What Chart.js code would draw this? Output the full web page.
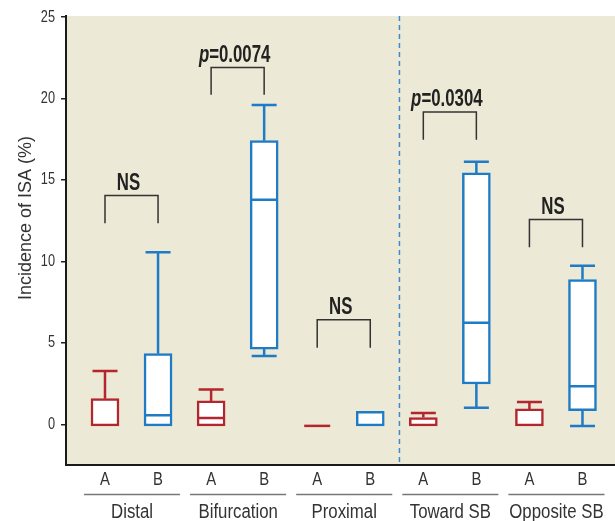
<!DOCTYPE html>
<html>
<head>
<meta charset="utf-8">
<title>Incidence of ISA</title>
<script src="https://cdn.jsdelivr.net/npm/chart.js@4.4.0/dist/chart.umd.min.js"></script>
<style>
    html, body { margin: 0; padding: 0; background: #fff; }
    #wrap { width: 615px; height: 521px; position: relative; }
</style>
</head>
<body>
<div id="wrap"><canvas id="isaChart"></canvas></div>
<script>
// Segments along the stent, each one has arm A (red) and arm B (blue)
const segments = ['Distal', 'Bifurcation', 'Proximal', 'Toward SB', 'Opposite SB'];
const arms = ['A', 'B'];
const yTicks = [0, 5, 10, 15, 20, 25];

// Box plot values (%), one entry per segment
const aLow  = [-0.1, -0.1, -0.1, -0.1, -0.1];
const aQ1   = [-0.1, -0.1, -0.1, -0.1, -0.1];
const aMed  = [-0.1, 0.39, -0.1, -0.1, -0.1];
const aQ3   = [1.57, 1.43, -0.1, 0.41, 0.94];
const aHigh = [3.27, 2.14, -0.1, 0.69, 1.37];

const bLow  = [-0.1, 4.19, -0.1, 1.02, -0.1];
const bQ1   = [-0.1, 4.61, -0.1, 2.47, 0.84];
const bMed  = [0.55, 13.77, -0.1, 6.23, 2.33];
const bQ3   = [4.33, 17.4, 0.8, 15.42, 8.88];
const bHigh = [10.56, 19.59, 0.8, 16.1, 9.72];

// Significance brackets between A and B of each segment
const sigLabels  = ['NS', 'p=0.0074', 'NS', 'p=0.0304', 'NS'];
const bracketTop = [14.03, 21.89, 6.42, 19.16, 12.56];
const bracketLeg = [12.33, 20.22, 4.7, 17.46, 10.86];

// Dashed divider between Proximal and Toward SB (x position in slot units)
const dividerAt = 5.55;

const RED = '#B3262D';
const BLUE = '#1E7BC5';
const SANS = '"Liberation Sans", Arial, sans-serif';

function boxData(q1, q3, armIndex) {
    return segments.map((s, i) => ({ x: i * 2 + armIndex, y: [q1[i], q3[i]] }));
}

// no narrow font installed, so squeeze the text horizontally
function fillNarrow(ctx, text, x, y, sx, align) {
    const w = ctx.measureText(text).width;
    let dx = 0;
    if (align === 'center') dx = -w / 2;
    if (align === 'right') dx = -w;
    ctx.save();
    ctx.translate(x, y);
    ctx.scale(sx, 1);
    ctx.textAlign = 'left';
    ctx.fillText(text, dx, 0);
    ctx.restore();
}

function drawBoxExtras(ctx, xs, ys, slot, low, q1, med, q3, high, color) {
    const x = xs.getPixelForValue(slot);
    const half = 14;
    const cap = 12.5;
    ctx.strokeStyle = color;
    ctx.lineWidth = 2.5;
    ctx.beginPath();
    if (q3 === q1) {
        // no spread at all: a flat line
        ctx.moveTo(x - 13, ys.getPixelForValue(q1));
        ctx.lineTo(x + 13, ys.getPixelForValue(q1));
    }
    if (high > q3) {
        ctx.moveTo(x, ys.getPixelForValue(q3));
        ctx.lineTo(x, ys.getPixelForValue(high));
        ctx.moveTo(x - cap, ys.getPixelForValue(high));
        ctx.lineTo(x + cap, ys.getPixelForValue(high));
    }
    if (low < q1) {
        ctx.moveTo(x, ys.getPixelForValue(q1));
        ctx.lineTo(x, ys.getPixelForValue(low));
        ctx.moveTo(x - cap, ys.getPixelForValue(low));
        ctx.lineTo(x + cap, ys.getPixelForValue(low));
    }
    if (med > q1 && med < q3) {
        ctx.moveTo(x - half + 1, ys.getPixelForValue(med));
        ctx.lineTo(x + half - 1, ys.getPixelForValue(med));
    }
    ctx.stroke();
}

function drawSigLabel(ctx, text, cx, y) {
    const sx = 0.7;
    const bold = 'bold 24px ' + SANS;
    const italic = 'italic bold 24px ' + SANS;
    ctx.fillStyle = '#222';
    ctx.textBaseline = 'alphabetic';
    ctx.textAlign = 'left';
    if (text.startsWith('p=')) {
        const rest = text.slice(1);
        ctx.font = italic;
        const wp = ctx.measureText('p').width;
        ctx.font = bold;
        const wr = ctx.measureText(rest).width;
        const x0 = cx - (wp + wr) * sx / 2;
        ctx.save();
        ctx.translate(x0, y);
        ctx.scale(sx, 1);
        ctx.font = italic;
        ctx.fillText('p', 0, 0);
        ctx.font = bold;
        ctx.fillText(rest, wp, 0);
        ctx.restore();
    } else {
        ctx.font = bold;
        fillNarrow(ctx, text, cx, y, sx, 'center');
    }
}

const boxPlotPlugin = {
    id: 'boxPlot',
    beforeDraw(chart) {
        const { ctx, chartArea: a } = chart;
        ctx.save();
        ctx.fillStyle = '#ECE9D7';
        ctx.fillRect(a.left, a.top, a.right - a.left, a.bottom - a.top);
        ctx.restore();
    },
    beforeDatasetsDraw(chart) {
        const { ctx, chartArea: a, scales: { x } } = chart;
        const px = x.getPixelForValue(dividerAt);
        ctx.save();
        ctx.strokeStyle = '#3D8CC9';
        ctx.lineWidth = 1.5;
        ctx.setLineDash([5, 4]);
        ctx.beginPath();
        ctx.moveTo(px, a.top);
        ctx.lineTo(px, a.bottom);
        ctx.stroke();
        ctx.restore();
    },
    afterDatasetsDraw(chart) {
        const { ctx, scales: { x, y } } = chart;
        ctx.save();
        segments.forEach((s, i) => {
            drawBoxExtras(ctx, x, y, i * 2, aLow[i], aQ1[i], aMed[i], aQ3[i], aHigh[i], RED);
            drawBoxExtras(ctx, x, y, i * 2 + 1, bLow[i], bQ1[i], bMed[i], bQ3[i], bHigh[i], BLUE);

            // bracket
            const xl = x.getPixelForValue(i * 2);
            const xr = x.getPixelForValue(i * 2 + 1);
            const yt = y.getPixelForValue(bracketTop[i]);
            const yl = y.getPixelForValue(bracketLeg[i]);
            ctx.strokeStyle = '#333';
            ctx.lineWidth = 1.5;
            ctx.beginPath();
            ctx.moveTo(xl, yl);
            ctx.lineTo(xl, yt);
            ctx.lineTo(xr, yt);
            ctx.lineTo(xr, yl);
            ctx.stroke();
            drawSigLabel(ctx, sigLabels[i], (xl + xr) / 2 - 3, yt - 6);
        });
        ctx.restore();
    },
    afterDraw(chart) {
        const { ctx, scales: { x, y } } = chart;
        ctx.save();
        ctx.fillStyle = '#333';
        ctx.textBaseline = 'middle';
        // y tick labels
        ctx.font = '17px ' + SANS;
        y.ticks.forEach(t => {
            fillNarrow(ctx, String(t.value), 55, y.getPixelForValue(t.value), 0.75, 'right');
        });
        // A / B tick labels
        ctx.font = '17.5px ' + SANS;
        x.ticks.forEach(t => {
            fillNarrow(ctx, arms[t.value % 2], x.getPixelForValue(t.value), 480, 0.85, 'center');
        });
        // segment names under the A/B labels
        segments.forEach((s, i) => {
            const xl = x.getPixelForValue(i * 2) - 21;
            const xr = x.getPixelForValue(i * 2 + 1) + 22;
            ctx.strokeStyle = '#777';
            ctx.lineWidth = 1.5;
            ctx.beginPath();
            ctx.moveTo(xl, 494.5);
            ctx.lineTo(xr, 494.5);
            ctx.stroke();
            ctx.font = '20px ' + SANS;
            fillNarrow(ctx, s, (xl + xr) / 2, 512, 0.84, 'center');
        });
        // y axis title
        ctx.translate(26, 218);
        ctx.rotate(-Math.PI / 2);
        ctx.font = '18px ' + SANS;
        ctx.textAlign = 'center';
        ctx.fillText('Incidence of ISA (%)', 0, 0);
        ctx.restore();
    }
};

function initializeIsaChart() {
    const ctx = document.getElementById('isaChart');
    new Chart(ctx, {
        type: 'bar',
        data: {
            datasets: [{
                label: 'A',
                data: boxData(aQ1, aQ3, 0),
                backgroundColor: '#fff',
                borderColor: RED,
                borderWidth: 2.5,
                borderSkipped: false,
                barThickness: 28,
                grouped: false
            }, {
                label: 'B',
                data: boxData(bQ1, bQ3, 1),
                backgroundColor: '#fff',
                borderColor: BLUE,
                borderWidth: 2.5,
                borderSkipped: false,
                barThickness: 28,
                grouped: false
            }]
        },
        options: {
            responsive: true,
            maintainAspectRatio: false,
            animation: false,
            layout: { padding: { top: 16, left: 0, right: 0, bottom: 0 } },
            plugins: {
                legend: { display: false },
                tooltip: { enabled: false }
            },
            scales: {
                x: {
                    type: 'linear',
                    min: -0.735,
                    max: 9.613,
                    offset: false,
                    afterBuildTicks: axis => {
                        axis.ticks = segments.flatMap((s, i) => arms.map((a, j) => ({ value: i * 2 + j })));
                    },
                    afterFit: axis => { axis.height = 56; },
                    grid: { display: false },
                    border: { display: true, color: '#1a1a1a', width: 2 },
                    ticks: { display: false }
                },
                y: {
                    min: -2.5,
                    max: 25.05,
                    afterBuildTicks: axis => {
                        axis.ticks = yTicks.map(v => ({ value: v }));
                    },
                    afterFit: axis => { axis.width = 66; },
                    grid: {
                        display: true,
                        drawOnChartArea: false,
                        drawTicks: true,
                        tickLength: 5,
                        color: '#222',
                        lineWidth: 1.5
                    },
                    border: { display: true, color: '#1a1a1a', width: 2 },
                    ticks: { display: false }
                }
            }
        },
        plugins: [boxPlotPlugin]
    });
}

document.addEventListener('DOMContentLoaded', initializeIsaChart);
</script>
</body>
</html>
